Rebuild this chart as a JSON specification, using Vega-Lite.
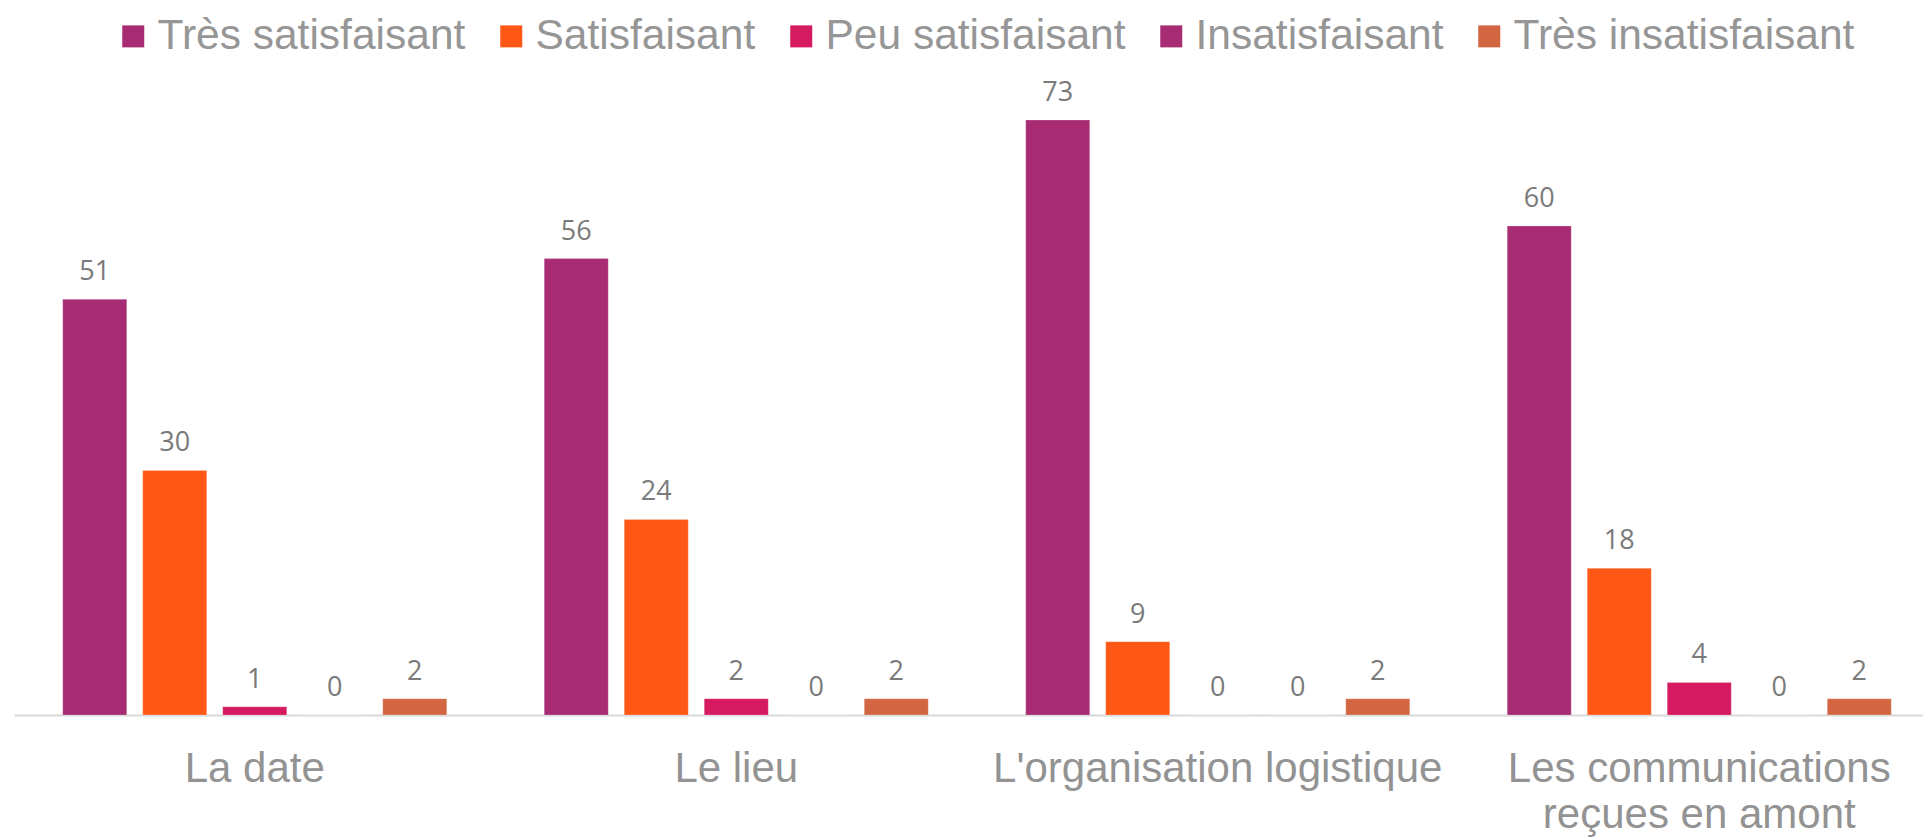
{
  "$schema": "https://vega.github.io/schema/vega-lite/v6.json",
  "width": 1926,
  "height": 615,
  "autosize": {"type": "none"},
  "padding": {"left": 14, "top": 100, "right": 0, "bottom": 122},
  "background": "white",
  "config": {"view": {"stroke": null}},
  "data": {
    "values": [
      {"question": "La date", "reponse": "Très satisfaisant", "n": 51},
      {"question": "La date", "reponse": "Satisfaisant", "n": 30},
      {"question": "La date", "reponse": "Peu satisfaisant", "n": 1},
      {"question": "La date", "reponse": "Insatisfaisant", "n": 0},
      {"question": "La date", "reponse": "Très insatisfaisant", "n": 2},
      {"question": "Le lieu", "reponse": "Très satisfaisant", "n": 56},
      {"question": "Le lieu", "reponse": "Satisfaisant", "n": 24},
      {"question": "Le lieu", "reponse": "Peu satisfaisant", "n": 2},
      {"question": "Le lieu", "reponse": "Insatisfaisant", "n": 0},
      {"question": "Le lieu", "reponse": "Très insatisfaisant", "n": 2},
      {"question": "L'organisation logistique", "reponse": "Très satisfaisant", "n": 73},
      {"question": "L'organisation logistique", "reponse": "Satisfaisant", "n": 9},
      {"question": "L'organisation logistique", "reponse": "Peu satisfaisant", "n": 0},
      {"question": "L'organisation logistique", "reponse": "Insatisfaisant", "n": 0},
      {"question": "L'organisation logistique", "reponse": "Très insatisfaisant", "n": 2},
      {"question": "Les communications reçues en amont", "reponse": "Très satisfaisant", "n": 60},
      {"question": "Les communications reçues en amont", "reponse": "Satisfaisant", "n": 18},
      {"question": "Les communications reçues en amont", "reponse": "Peu satisfaisant", "n": 4},
      {"question": "Les communications reçues en amont", "reponse": "Insatisfaisant", "n": 0},
      {"question": "Les communications reçues en amont", "reponse": "Très insatisfaisant", "n": 2}
    ]
  },
  "encoding": {
    "x": {
      "field": "question",
      "type": "nominal",
      "sort": ["La date", "Le lieu", "L'organisation logistique", "Les communications reçues en amont"],
      "scale": {"paddingInner": 0, "paddingOuter": 0},
      "axis": {
        "title": null,
        "ticks": false,
        "tickSize": 0,
        "domain": true,
        "domainColor": "#d9d9d9",
        "domainWidth": 2,
        "labelAngle": 0,
        "labelFont": "Liberation Sans",
        "labelFontSize": 42,
        "labelColor": "#939393",
        "labelPadding": 33,
        "labelBaseline": "top",
        "labelLimit": 0,
        "labelLineHeight": 46,
        "labelExpr": "datum.label == 'Les communications reçues en amont' ? ['Les communications', 'reçues en amont'] : datum.label",
        "grid": false
      }
    },
    "xOffset": {
      "field": "reponse",
      "type": "nominal",
      "sort": ["Très satisfaisant", "Satisfaisant", "Peu satisfaisant", "Insatisfaisant", "Très insatisfaisant"],
      "scale": {"paddingInner": 0.2, "paddingOuter": 0.609}
    },
    "y": {
      "field": "n",
      "type": "quantitative",
      "scale": {"domain": [0, 75.46], "nice": false, "zero": true},
      "axis": null
    }
  },
  "layer": [
    {
      "mark": {"type": "bar", "stroke": "#ffffff", "strokeOpacity": 0.35, "strokeWidth": 0.6},
      "encoding": {
        "color": {
          "field": "reponse",
          "type": "nominal",
          "sort": ["Très satisfaisant", "Satisfaisant", "Peu satisfaisant", "Insatisfaisant", "Très insatisfaisant"],
          "scale": {
            "domain": ["Très satisfaisant", "Satisfaisant", "Peu satisfaisant", "Insatisfaisant", "Très insatisfaisant"],
            "range": ["#a72c74", "#ff5816", "#d61a60", "#a72c74", "#d36642"]
          },
          "legend": {
            "title": null,
            "orient": "none",
            "direction": "horizontal",
            "legendX": 98,
            "legendY": -85,
            "padding": 0,
            "symbolType": "square",
            "symbolSize": 484,
            "symbolStrokeWidth": 0,
            "labelFont": "Liberation Sans",
            "labelFontSize": 42.5,
            "labelColor": "#969696",
            "labelOffset": 3,
            "labelLimit": 0,
            "columnPadding": 24,
            "columns": 5
          }
        }
      }
    },
    {
      "mark": {"type": "text", "baseline": "alphabetic", "dy": -19, "font": "Open Sans", "fontSize": 27, "color": "#7a7a7a"},
      "encoding": {
        "text": {"field": "n", "type": "quantitative"}
      }
    }
  ]
}
